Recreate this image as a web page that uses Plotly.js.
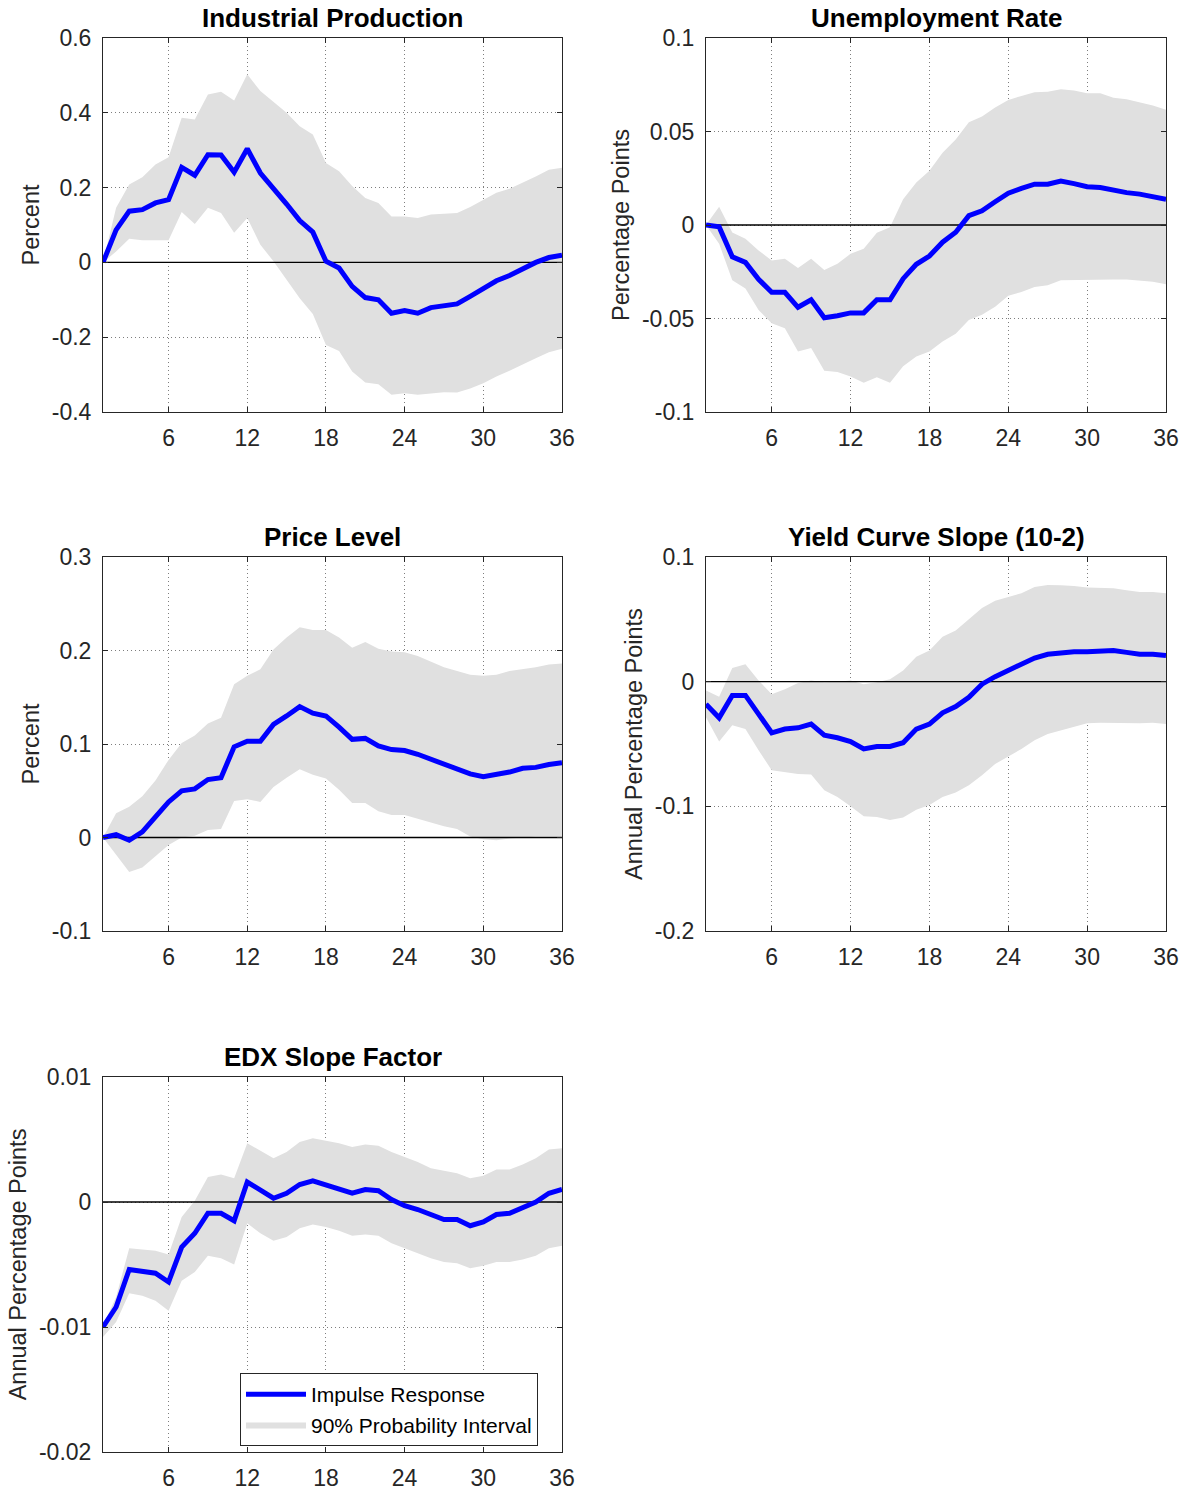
<!DOCTYPE html>
<html>
<head>
<meta charset="utf-8">
<script src="https://cdn.plot.ly/plotly-3.0.1.min.js"></script>
<style>html,body{margin:0;padding:0;background:#fff;}#chart{width:1190px;height:1492px;}</style>
</head>
<body>
<div id="chart"></div>
<script>
// Horizon (months)
const horizon = Array.from({length: 36}, (_, i) => i + 1);
const xTickVals = [6, 12, 18, 24, 30, 36];
const xTickText = ["6", "12", "18", "24", "30", "36"];

// Titles
const panelTitles = ["Industrial Production", "Unemployment Rate", "Price Level", "Yield Curve Slope (10-2)", "EDX Slope Factor"];
const yTitles = ["Percent", "Percentage Points", "Percent", "Annual Percentage Points", "Annual Percentage Points"];

// Industrial Production
const ipMed = [0, 0.087, 0.137, 0.141, 0.159, 0.168, 0.254, 0.233, 0.288, 0.287, 0.241, 0.304, 0.239, 0.199, 0.156, 0.112, 0.081, 0.003, -0.015, -0.064, -0.094, -0.100, -0.136, -0.129, -0.136, -0.121, -0.115, -0.111, -0.091, -0.071, -0.049, -0.035, -0.018, 0, 0.013, 0.019];
const ipUp = [0, 0.146, 0.208, 0.228, 0.262, 0.281, 0.387, 0.382, 0.449, 0.456, 0.433, 0.503, 0.458, 0.429, 0.400, 0.364, 0.342, 0.266, 0.244, 0.204, 0.172, 0.159, 0.123, 0.123, 0.119, 0.128, 0.129, 0.132, 0.148, 0.168, 0.186, 0.197, 0.213, 0.230, 0.248, 0.253];
const ipLo = [0, 0.029, 0.063, 0.059, 0.059, 0.059, 0.135, 0.103, 0.146, 0.132, 0.079, 0.119, 0.047, 0.003, -0.046, -0.096, -0.138, -0.221, -0.237, -0.292, -0.321, -0.326, -0.354, -0.350, -0.354, -0.350, -0.347, -0.348, -0.337, -0.323, -0.305, -0.290, -0.274, -0.256, -0.240, -0.231];

// Unemployment Rate
const urMed = [0, -0.001, -0.017, -0.020, -0.029, -0.036, -0.036, -0.044, -0.040, -0.0496, -0.0485, -0.047, -0.047, -0.040, -0.040, -0.0287, -0.021, -0.0166, -0.0092, -0.0039, 0.005, 0.0076, 0.0124, 0.017, 0.0196, 0.0218, 0.0218, 0.0235, 0.0221, 0.0205, 0.020, 0.0186, 0.0173, 0.0165, 0.0152, 0.0138];
const urUp = [0, 0.0097, -0.004, -0.0074, -0.0136, -0.019, -0.018, -0.023, -0.018, -0.024, -0.0207, -0.0154, -0.0127, -0.0042, -0.0012, 0.0138, 0.0227, 0.029, 0.0386, 0.0457, 0.055, 0.058, 0.0628, 0.0669, 0.069, 0.071, 0.0713, 0.0726, 0.0719, 0.0704, 0.0704, 0.0681, 0.0673, 0.0655, 0.0639, 0.0616];
const urLo = [0, -0.010, -0.0296, -0.034, -0.0455, -0.0526, -0.0552, -0.0676, -0.0658, -0.078, -0.0786, -0.081, -0.0844, -0.0814, -0.0844, -0.0756, -0.0703, -0.0676, -0.0623, -0.0582, -0.0508, -0.048, -0.0437, -0.0379, -0.0358, -0.0331, -0.0322, -0.0296, -0.0292, -0.0292, -0.0292, -0.0292, -0.0292, -0.0296, -0.0304, -0.0317];

// Price Level
const plMed = [0, 0.003, -0.003, 0.006, 0.022, 0.038, 0.050, 0.052, 0.062, 0.064, 0.097, 0.103, 0.103, 0.121, 0.130, 0.140, 0.133, 0.130, 0.118, 0.105, 0.106, 0.098, 0.094, 0.093, 0.089, 0.084, 0.079, 0.074, 0.068, 0.065, 0.067, 0.070, 0.074, 0.075, 0.078, 0.080];
const plUp = [0, 0.026, 0.033, 0.044, 0.061, 0.083, 0.101, 0.109, 0.122, 0.128, 0.164, 0.173, 0.180, 0.201, 0.214, 0.225, 0.222, 0.222, 0.214, 0.203, 0.209, 0.202, 0.199, 0.198, 0.194, 0.188, 0.182, 0.178, 0.174, 0.173, 0.174, 0.178, 0.180, 0.182, 0.185, 0.186];
const plLo = [0, -0.019, -0.037, -0.032, -0.020, -0.008, 0, 0.002, 0.008, 0.009, 0.039, 0.041, 0.038, 0.054, 0.064, 0.073, 0.067, 0.063, 0.051, 0.037, 0.037, 0.028, 0.024, 0.024, 0.020, 0.016, 0.012, 0.009, 0.001, -0.002, -0.003, -0.001, 0, 0.001, 0.001, 0.001];

// Yield Curve Slope (10-2)
const ycMed = [-0.018, -0.029, -0.011, -0.011, -0.026, -0.041, -0.038, -0.037, -0.034, -0.043, -0.045, -0.048, -0.054, -0.052, -0.052, -0.049, -0.038, -0.034, -0.025, -0.020, -0.0125, -0.002, 0.004, 0.009, 0.013, 0.019, 0.022, 0.023, 0.024, 0.024, 0.025, 0.025, 0.0235, 0.022, 0.022, 0.021];
const ycUp = [-0.007, -0.012, 0.011, 0.014, 0.001, -0.010, -0.006, -0.001, 0.001, -0.0005, 0, 0.001, -0.002, -0.0005, 0.002, 0.009, 0.020, 0.025, 0.036, 0.041, 0.050, 0.059, 0.065, 0.068, 0.071, 0.076, 0.0776, 0.0773, 0.0768, 0.0755, 0.0755, 0.075, 0.0733, 0.072, 0.072, 0.071];
const ycLo = [-0.0285, -0.048, -0.035, -0.038, -0.055, -0.071, -0.0725, -0.074, -0.0744, -0.087, -0.0925, -0.100, -0.108, -0.1085, -0.111, -0.109, -0.1027, -0.099, -0.0925, -0.089, -0.083, -0.075, -0.066, -0.060, -0.054, -0.047, -0.042, -0.039, -0.036, -0.0333, -0.033, -0.033, -0.033, -0.0333, -0.033, -0.034];

// EDX Slope Factor
const edxMed = [-0.0100, -0.0084, -0.0054, -0.0055, -0.0057, -0.0064, -0.0036, -0.0025, -0.0009, -0.0009, -0.0015, 0.0016, 0.0009, 0.0003, 0.0007, 0.0014, 0.0017, 0.0014, 0.0011, 0.0007, 0.0010, 0.0009, 0.0002, -0.0003, -0.0006, -0.0010, -0.0014, -0.0014, -0.0019, -0.0016, -0.0010, -0.0009, -0.0005, 0, 0.0007, 0.0010];
const edxUp = [-0.0099, -0.0076, -0.0037, -0.0038, -0.0039, -0.0042, -0.0012, 0.0001, 0.0020, 0.0022, 0.0019, 0.0047, 0.0041, 0.0035, 0.0040, 0.0048, 0.0051, 0.0049, 0.0047, 0.0044, 0.0046, 0.0045, 0.0040, 0.0036, 0.0032, 0.0027, 0.0025, 0.0023, 0.0019, 0.0021, 0.0026, 0.0026, 0.0030, 0.0035, 0.0042, 0.0043];
const edxLo = [-0.0108, -0.0096, -0.0073, -0.0075, -0.0079, -0.0087, -0.0063, -0.0056, -0.0043, -0.0045, -0.0050, -0.0017, -0.0025, -0.0031, -0.0028, -0.0021, -0.0018, -0.0020, -0.0023, -0.0027, -0.0026, -0.0027, -0.0033, -0.0037, -0.0041, -0.0045, -0.0048, -0.0049, -0.0053, -0.0051, -0.0048, -0.0048, -0.0046, -0.0043, -0.0037, -0.0035];

// Y axis ticks
const yTicks = [
  {vals: [-0.4, -0.2, 0, 0.2, 0.4, 0.6], text: ["-0.4", "-0.2", "0", "0.2", "0.4", "0.6"], range: [-0.4, 0.6]},
  {vals: [-0.1, -0.05, 0, 0.05, 0.1], text: ["-0.1", "-0.05", "0", "0.05", "0.1"], range: [-0.1, 0.1]},
  {vals: [-0.1, 0, 0.1, 0.2, 0.3], text: ["-0.1", "0", "0.1", "0.2", "0.3"], range: [-0.1, 0.3]},
  {vals: [-0.2, -0.1, 0, 0.1], text: ["-0.2", "-0.1", "0", "0.1"], range: [-0.2, 0.1]},
  {vals: [-0.02, -0.01, 0, 0.01], text: ["-0.02", "-0.01", "0", "0.01"], range: [-0.02, 0.01]}
];

const series = [
  {med: ipMed, up: ipUp, lo: ipLo},
  {med: urMed, up: urUp, lo: urLo},
  {med: plMed, up: plUp, lo: plLo},
  {med: ycMed, up: ycUp, lo: ycLo},
  {med: edxMed, up: edxUp, lo: edxLo}
];

const W = 1190, H = 1492;
const colsPx = [[103, 562], [706, 1166]];
const rowsPx = [[38, 412], [557, 931], [1077, 1452]];

const FONT = "Liberation Sans, Arial, Helvetica, sans-serif";
const TXT = "#262626";

const traces = [];
const layout = {
  width: W, height: H,
  margin: {l: 0, r: 0, t: 0, b: 0},
  paper_bgcolor: "#ffffff",
  plot_bgcolor: "#ffffff",
  font: {family: FONT, size: 23, color: TXT},
  showlegend: true,
  legend: {
    x: 240 / W, y: 1 - 1373 / H, xanchor: "left", yanchor: "top",
    bgcolor: "#ffffff", bordercolor: "#262626", borderwidth: 1,
    font: {family: FONT, size: 21, color: "#000000"},
    itemwidth: 60, tracegroupgap: 0
  },
  annotations: [],
  shapes: []
};

const xRev = horizon.slice().reverse();

series.forEach((s, i) => {
  const n = i + 1;
  const col = i % 2, row = Math.floor(i / 2);
  const xa = n === 1 ? "x" : "x" + n;
  const ya = n === 1 ? "y" : "y" + n;
  const isLast = i === 4;

  traces.push({
    x: horizon.concat(xRev),
    y: s.up.concat(s.lo.slice().reverse()),
    type: "scatter", mode: "lines", fill: "toself",
    fillcolor: "#e0e0e0", line: {width: 0, color: "#e0e0e0"},
    xaxis: xa, yaxis: ya, hoverinfo: "skip",
    name: "90% Probability Interval", showlegend: isLast, legendrank: 2
  });
  traces.push({
    x: [horizon[0], horizon[horizon.length - 1]], y: [0, 0],
    type: "scatter", mode: "lines", line: {color: "#000000", width: 1.4},
    xaxis: xa, yaxis: ya, hoverinfo: "skip", showlegend: false
  });
  traces.push({
    x: horizon, y: s.med,
    type: "scatter", mode: "lines", line: {color: "#0000ff", width: 5},
    xaxis: xa, yaxis: ya,
    name: "Impulse Response", showlegend: isLast, legendrank: 1
  });

  const xd = [colsPx[col][0] / W, colsPx[col][1] / W];
  const yd = [1 - rowsPx[row][1] / H, 1 - rowsPx[row][0] / H];
  const axCommon = {
    showline: true, linecolor: "#262626", linewidth: 1, mirror: "ticks",
    ticks: "inside", ticklen: 5, tickcolor: "#262626", tickwidth: 1,
    showgrid: true, gridcolor: "rgba(40,40,40,0.6)", griddash: "1px,3px", gridwidth: 1,
    zeroline: false, fixedrange: true,
    tickfont: {family: FONT, size: 23, color: TXT}
  };
  layout["xaxis" + (n === 1 ? "" : n)] = Object.assign({}, axCommon, {
    domain: xd, anchor: ya, range: [horizon[0], horizon[horizon.length - 1]],
    tickmode: "array", tickvals: xTickVals, ticktext: xTickText,
    ticklabelstandoff: 5
  });
  layout["yaxis" + (n === 1 ? "" : n)] = Object.assign({}, axCommon, {
    domain: yd, anchor: xa, range: yTicks[i].range,
    tickmode: "array", tickvals: yTicks[i].vals, ticktext: yTicks[i].text,
    ticklabelstandoff: 6,
    title: {text: yTitles[i], font: {family: FONT, size: 23.5, color: TXT}, standoff: 5}
  });

  layout.annotations.push({
    text: "<b>" + panelTitles[i] + "</b>",
    xref: "paper", yref: "paper",
    x: (xd[0] + xd[1]) / 2, y: yd[1],
    xanchor: "center", yanchor: "bottom", yshift: 3,
    showarrow: false,
    font: {family: FONT, size: 26, color: "#000000"}
  });
});

Plotly.newPlot("chart", traces, layout, {staticPlot: true, displayModeBar: false});
</script>
</body>
</html>
